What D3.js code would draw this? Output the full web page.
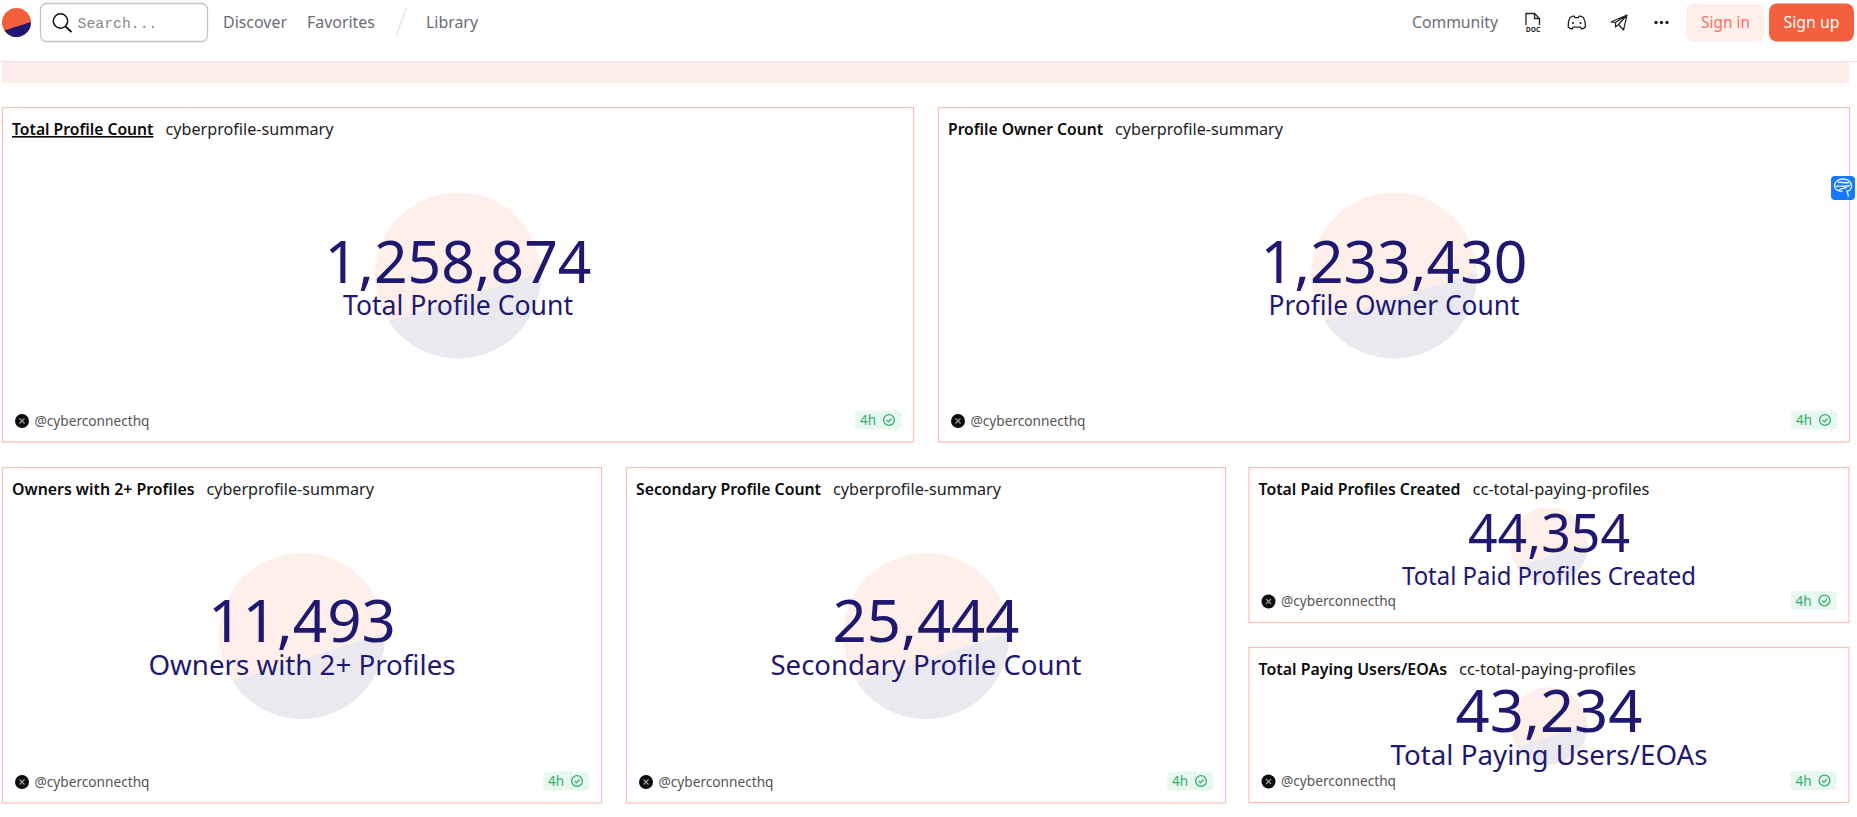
<!DOCTYPE html>
<html>
<head>
<meta charset="utf-8">
<script src="https://cdn.jsdelivr.net/npm/d3@7"></script>
<style>
  html, body { margin: 0; background: #fff; overflow: hidden; }
  text { font-family: "Noto Sans", sans-serif; }
</style>
</head>
<body>
<div id="chart"></div>
<script>
// data
const titles = ["Total Profile Count", "Profile Owner Count", "Owners with 2+ Profiles", "Secondary Profile Count", "Total Paid Profiles Created", "Total Paying Users/EOAs"];
const queries = ["cyberprofile-summary", "cyberprofile-summary", "cyberprofile-summary", "cyberprofile-summary", "cc-total-paying-profiles", "cc-total-paying-profiles"];
const counters = [1258874, 1233430, 11493, 25444, 44354, 43234];
const owner = "@cyberconnecthq";
const age = "4h";
const navLeft = ["Discover", "Favorites", "Library"];

// layout, one row per card
const boxes = [
  { x0: 2.5, x1: 913.5, y0: 107.5, y1: 442, r: 83, num: 59, lab: 28, numY: 283, labY: 314.5, numW: 267, labW: 230, titleW: 141.5, queryW: 168 },
  { x0: 938.5, x1: 1849.5, y0: 107.5, y1: 442, r: 83, num: 59, lab: 28, numY: 283, labY: 314.5, numW: 267, labW: 251, titleW: 155, queryW: 168 },
  { x0: 2.5, x1: 601.5, y0: 467.5, y1: 803, r: 83, num: 59, lab: 28, numY: 642, labY: 675, numW: 188, labW: 307, titleW: 182.5, queryW: 167.5 },
  { x0: 626.5, x1: 1225.5, y0: 467.5, y1: 803, r: 83, num: 59, lab: 28, numY: 642, labY: 675, numW: 187, labW: 311, titleW: 185, queryW: 168 },
  { x0: 1249, x1: 1849, y0: 467.5, y1: 622.5, r: 38.5, num: 52, lab: 25, numY: 552, labY: 585, numW: 162, labW: 294, titleW: 202, queryW: 177 },
  { x0: 1249, x1: 1849, y0: 647.5, y1: 802.5, r: 38.5, num: 59, lab: 28, numY: 732, labY: 764.5, numW: 187, labW: 317, titleW: 188.5, queryW: 177 }
];

const width = 1857;
const height = 817;
const navy = "#1e1870";
const orange = "#f4603e";
const fmt = d3.format(",");

const svg = d3.select("#chart").append("svg")
  .attr("width", width).attr("height", height)
  .style("display", "block");

// text squeezed to the measured width
function label(g, x, y, str, size, color, w, anchor) {
  const t = g.append("text")
    .attr("x", x).attr("y", y)
    .attr("font-size", size)
    .attr("fill", color)
    .attr("text-anchor", anchor || "start")
    .text(str);
  if (w) t.attr("textLength", w).attr("lengthAdjust", "spacingAndGlyphs");
  return t;
}

// logo disc: whole circle with a chord-cut segment on top
function disc(g, cx, cy, r, top, bottom) {
  g.append("circle").attr("cx", cx).attr("cy", cy).attr("r", r).attr("fill", top);
  const p = d3.path();
  p.arc(cx, cy, r, -2 * Math.PI / 180, 146.5 * Math.PI / 180);
  p.closePath();
  g.append("path").attr("d", p.toString()).attr("fill", bottom);
}

// top bar
const nav = svg.append("g");
disc(nav, 16.5, 22.5, 14.5, orange, navy);
nav.append("rect").attr("x", 40.5).attr("y", 3.5).attr("width", 167).attr("height", 38).attr("rx", 6)
  .attr("fill", "#fff").attr("stroke", "#c4c4c8").attr("stroke-width", 1.3);
nav.append("circle").attr("cx", 60.5).attr("cy", 21).attr("r", 7.2).attr("fill", "none").attr("stroke", "#111").attr("stroke-width", 1.5);
nav.append("line").attr("x1", 65.5).attr("y1", 26.5).attr("x2", 71.5).attr("y2", 32).attr("stroke", "#111").attr("stroke-width", 1.8);
label(nav, 77.5, 28, "Search...", 14.8, "#8a8a8a").style("font-family", "'Liberation Mono', monospace");
label(nav, 223, 27.5, navLeft[0], 16.5, "#6a6d78", 64);
label(nav, 307, 27.5, navLeft[1], 16.5, "#6a6d78", 68);
nav.append("line").attr("x1", 406).attr("y1", 8.5).attr("x2", 396).attr("y2", 36.5).attr("stroke", "#dddde0");
label(nav, 426, 27.5, navLeft[2], 16.5, "#6a6d78", 52);
label(nav, 1412, 27.5, "Community", 16.5, "#6a6d78", 86);

// doc icon
nav.append("path").attr("d", "M1526 25V13.5h8.5l5 5V25M1534.5 13.5v5h5").attr("fill", "none").attr("stroke", "#222").attr("stroke-width", 1.3);
label(nav, 1533, 32, "DOC", 7.5, "#222", 14.5, "middle").attr("font-weight", 700);
// discord icon
nav.append("path").attr("d", "M1570 17.5c2-1 3.8-1.4 4.4-1.2l.6 1.4h3.4l.6-1.4c.8-.2 2.6.2 4.4 1.2 1.6 3 2.4 6 2 9.5-1 1-2.6 1.8-3.8 2l-1-1.8h-7.6l-1 1.8c-1.3-.2-2.8-1-3.8-2-.4-3.5.4-6.5 1.8-9.5z")
  .attr("fill", "none").attr("stroke", "#222").attr("stroke-width", 1.3);
nav.append("circle").attr("cx", 1573).attr("cy", 23).attr("r", 1.1).attr("fill", "#222");
nav.append("circle").attr("cx", 1580.5).attr("cy", 23).attr("r", 1.1).attr("fill", "#222");
// paper plane icon
nav.append("path").attr("d", "M1611 22l16-7-3.5 15-5-5.5-3 2.5v-4.5zM1627 15l-11.5 7.5M1627 15l-8.5 9.5").attr("fill", "none").attr("stroke", "#222").attr("stroke-width", 1.2).attr("stroke-linejoin", "round");
// overflow dots
[1656, 1661.5, 1667].forEach((x) => nav.append("circle").attr("cx", x).attr("cy", 22.5).attr("r", 1.7).attr("fill", "#222"));

nav.append("rect").attr("x", 1686).attr("y", 3.5).attr("width", 79).attr("height", 38).attr("rx", 8).attr("fill", "#feefea");
label(nav, 1725.5, 27.5, "Sign in", 16.5, "#f9706a", 49, "middle");
nav.append("rect").attr("x", 1769).attr("y", 3.5).attr("width", 85).attr("height", 38).attr("rx", 8).attr("fill", orange);
label(nav, 1811.5, 27.5, "Sign up", 16.5, "#fff", 56, "middle");

nav.append("line").attr("x1", 0).attr("y1", 61.5).attr("x2", width).attr("y2", 61.5).attr("stroke", "#e4e2e6");
nav.append("rect").attr("x", 2).attr("y", 62).attr("width", 1847).attr("height", 21).attr("fill", "#feeceb");

// cards
const cards = svg.selectAll("g.card")
  .data(d3.range(titles.length))
  .enter()
  .append("g")
  .attr("class", "card")
  .each(function (i) {
    const g = d3.select(this);
    const b = boxes[i];
    const cx = (b.x0 + b.x1) / 2;
    const cy = (b.y0 + b.y1) / 2 + 0.7;

    g.append("rect")
      .attr("x", b.x0).attr("y", b.y0)
      .attr("width", b.x1 - b.x0).attr("height", b.y1 - b.y0)
      .attr("fill", "#fff").attr("stroke", "#fdbcb6").attr("stroke-width", 1.2);

    disc(g, cx, cy, b.r, "#feefea", "#e9e9ef");

    const head = label(g, b.x0 + 9.5, b.y0 + 27.5, titles[i], 16, "#0a0a0a", b.titleW).attr("font-weight", 600);
    if (i === 0) head.attr("text-decoration", "underline");
    label(g, b.x0 + 9.5 + b.titleW + 12, b.y0 + 27.5, queries[i], 16, "#222", b.queryW);

    label(g, cx, b.numY, fmt(counters[i]), b.num, navy, b.numW, "middle").attr("font-weight", 400);
    label(g, cx, b.labY, titles[i], b.lab, navy, b.labW, "middle");

    // footer
    const fy = b.y1 - 21;
    const ax = b.x0 + 19.5;
    g.append("circle").attr("cx", ax).attr("cy", fy).attr("r", 7).attr("fill", "#0b0b0b");
    g.append("path").attr("d", `M${ax - 2.5} ${fy - 2.5}l5 5M${ax + 2.5} ${fy - 2.5}l-5 5`).attr("stroke", "#9a9a9a").attr("stroke-width", 1.3);
    label(g, b.x0 + 32, b.y1 - 16.2, owner, 14, "#555", 115);

    const bx = b.x1 - 58.5;
    g.append("rect").attr("x", bx).attr("y", b.y1 - 31.5).attr("width", 46).attr("height", 19).attr("rx", 4).attr("fill", "#e8f8f0");
    label(g, bx + 5, b.y1 - 17, age, 14.5, "#36ad6f", 16);
    g.append("circle").attr("cx", bx + 34).attr("cy", b.y1 - 22).attr("r", 5.4).attr("fill", "none").attr("stroke", "#36ad6f").attr("stroke-width", 1.3);
    g.append("path").attr("d", `M${bx + 31.6} ${b.y1 - 22}l1.8 1.9 3.2-3.4`).attr("fill", "none").attr("stroke", "#36ad6f").attr("stroke-width", 1.3);
  });

// side widget
const widget = svg.append("g");
widget.append("rect").attr("x", 1831).attr("y", 176).attr("width", 24).attr("height", 24).attr("rx", 4).attr("fill", "#1677ff");
widget.append("path").attr("d", "M1834.5 186c0-4.5 4-7 8.5-7s8.5 2.5 8.5 7c0 3-2 5-4.5 5l1.5 5.5M1834.5 186c0 3 3 5 8 5.5M1838 182.5c3-1 7 1 11 0M1836 186.5c3-1 8 .5 14-1M1839 190c2-1.5 5-1.5 8-3")
  .attr("fill", "none").attr("stroke", "#e6f0ff").attr("stroke-width", 1.4);
</script>
</body>
</html>
